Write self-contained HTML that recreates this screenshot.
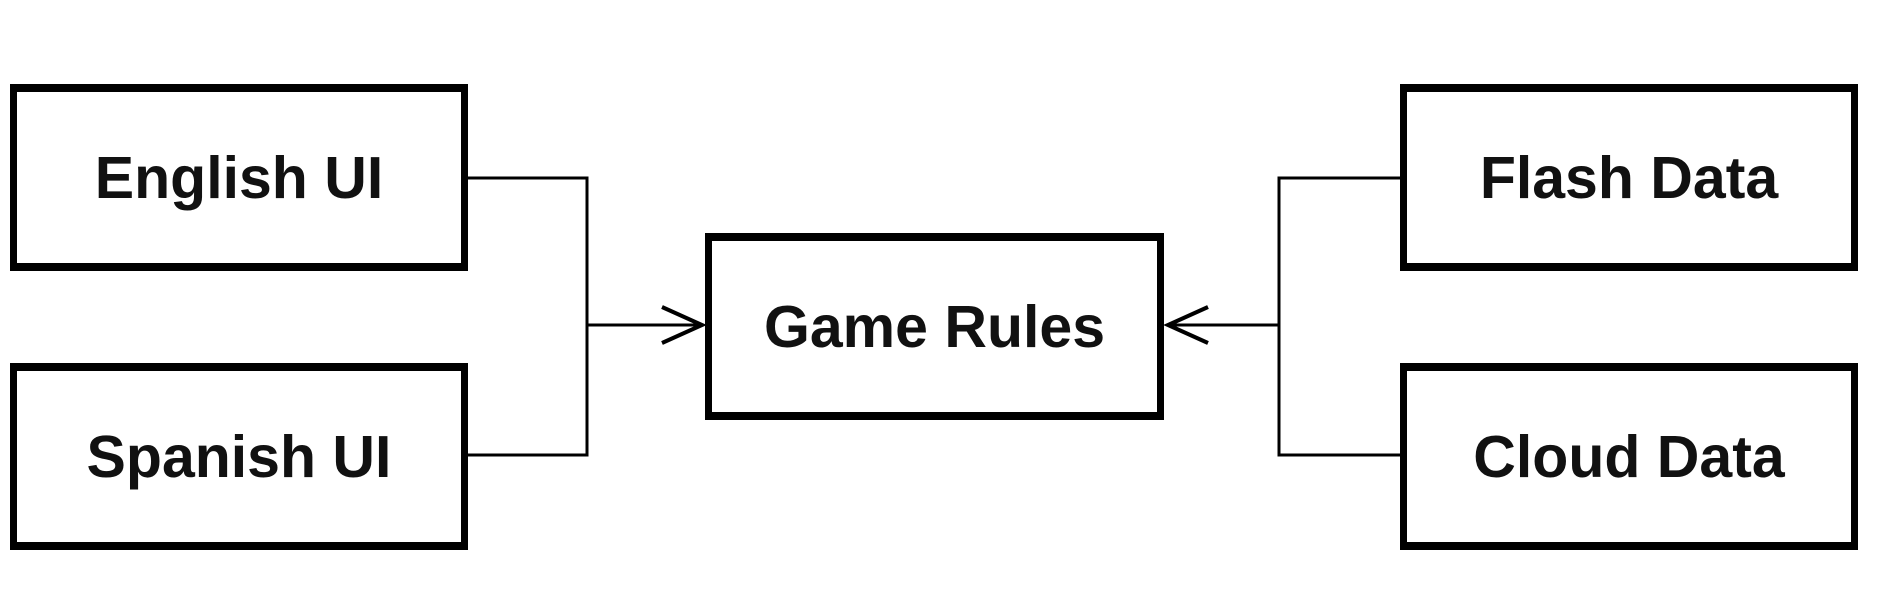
<!DOCTYPE html>
<html><head><style>
html,body{margin:0;padding:0;background:#fff;}
body{width:1878px;height:594px;position:relative;overflow:hidden;}
.b{position:absolute;box-sizing:border-box;border:7px solid #000;border-top-width:8px;border-bottom-width:8px;display:flex;align-items:center;justify-content:center;font-family:"Liberation Sans",sans-serif;font-weight:bold;font-size:59px;color:#111;}
</style></head><body>
<svg width="1878" height="594" style="position:absolute;left:0;top:0" fill="none" stroke="#000" stroke-width="3">
<polyline points="467,178 587,178 587,455 467,455"/>
<line x1="587" y1="325" x2="702" y2="325"/>
<polyline points="662,307 702,325 662,343" stroke-width="4"/>
<polyline points="1402,178 1279,178 1279,455 1402,455"/>
<line x1="1279" y1="325" x2="1168" y2="325"/>
<polyline points="1208,307 1168,325 1208,343" stroke-width="4"/>
</svg>
<div class="b" style="left:10px;top:84px;width:458px;height:187px">English UI</div>
<div class="b" style="left:10px;top:363px;width:458px;height:187px">Spanish UI</div>
<div class="b" style="left:705px;top:233px;width:459px;height:187px">Game Rules</div>
<div class="b" style="left:1400px;top:84px;width:458px;height:187px">Flash Data</div>
<div class="b" style="left:1400px;top:363px;width:458px;height:187px">Cloud Data</div>
</body></html>
